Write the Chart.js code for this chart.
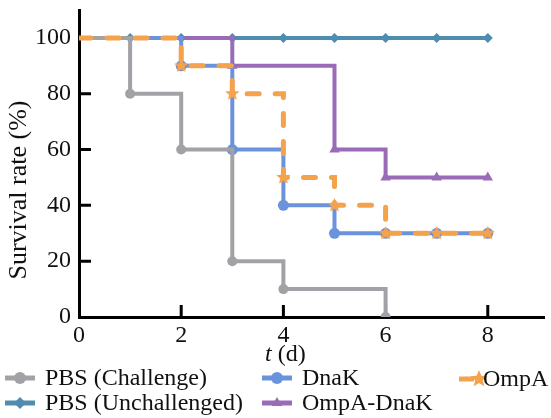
<!DOCTYPE html>
<html>
<head>
<meta charset="utf-8">
<script src="https://cdn.jsdelivr.net/npm/chart.js@4.4.1/dist/chart.umd.min.js"></script>
<style>
  html, body { margin: 0; padding: 0; background: #fff; }
  #wrap { width: 551px; height: 418px; }
</style>
</head>
<body>
<div id="wrap"><canvas id="survivalChart" width="551" height="418"></canvas></div>
<script>
// survival data (day -> % alive)
const challengeDays = [0, 1, 2, 3, 4, 6];
const challengeRate = [100, 80, 60, 20, 10, 0];

const unchallengedDays = [0, 1, 2, 3, 4, 5, 6, 7, 8];
const unchallengedRate = [100, 100, 100, 100, 100, 100, 100, 100, 100];

const dnakDays = [0, 2, 3, 4, 5, 6, 7, 8];
const dnakRate = [100, 90, 60, 40, 30, 30, 30, 30];

const ompaDnakDays = [0, 3, 5, 6, 7, 8];
const ompaDnakRate = [100, 90, 60, 50, 50, 50];

const ompaDays = [0, 2, 3, 4, 5, 6, 7, 8];
const ompaRate = [100, 90, 80, 50, 40, 30, 30, 30];

const xTicks = [0, 2, 4, 6, 8];
const yTicks = [0, 20, 40, 60, 80, 100];

const FONT = "'Liberation Serif', 'Times New Roman', serif";

const colors = {
    challenge: '#a2a2a6',
    unchallenged: '#4f8db0',
    dnak: '#6b93dc',
    ompaDnak: '#9a6bb6',
    ompa: '#f4a24c'
};

function toPoints(xs, ys) {
    return xs.map((x, i) => ({ x: x, y: ys[i] }));
}

// filled five point star used as the OmpA marker
function makeStar(size, color) {
    const c = document.createElement('canvas');
    c.width = size; c.height = size;
    const g = c.getContext('2d');
    const cx = size / 2, cy = size / 2, R = size / 2, r = R * 0.45;
    g.beginPath();
    for (let k = 0; k < 10; k++) {
        const rad = k % 2 === 0 ? R : r;
        const a = -Math.PI / 2 + k * Math.PI / 5;
        g.lineTo(cx + rad * Math.cos(a), cy + rad * Math.sin(a));
    }
    g.closePath();
    g.fillStyle = color;
    g.fill();
    return c;
}
const starImg = makeStar(15, colors.ompa);

const hideFirst = r => ctx => ctx.dataIndex === 0 ? 0 : r;

function stepSet(label, xs, ys, color, style, radius) {
    return {
        label: label,
        data: toPoints(xs, ys),
        borderColor: color,
        backgroundColor: color,
        borderWidth: 4,
        stepped: 'before',
        pointStyle: style,
        pointRadius: hideFirst(radius),
        pointBorderWidth: 0
    };
}

const legendItems = [
    { label: 'PBS (Challenge)', color: colors.challenge, style: 'circle', x1: 5, x2: 35, tx: 45, y: 378 },
    { label: 'PBS (Unchallenged)', color: colors.unchallenged, style: 'rectRot', x1: 5, x2: 35, tx: 45, y: 403 },
    { label: 'DnaK', color: colors.dnak, style: 'circle', x1: 262, x2: 292, tx: 302, y: 378 },
    { label: 'OmpA-DnaK', color: colors.ompaDnak, style: 'triangle', x1: 262, x2: 292, tx: 302, y: 403 },
    { label: 'OmpA', color: colors.ompa, style: 'star', x1: 459, x2: 474, tx: 483, y: 379 }
];

const extras = {
    id: 'extras',
    beforeDatasetsDraw(chart) {
        const ctx = chart.ctx;
        const xs = chart.scales.x, ys = chart.scales.y;
        const area = chart.chartArea;
        ctx.save();
        ctx.strokeStyle = '#000';
        ctx.lineWidth = 3;
        ctx.beginPath();
        xTicks.forEach(v => {
            if (v === 0) return;
            const px = xs.getPixelForValue(v);
            ctx.moveTo(px, area.bottom);
            ctx.lineTo(px, area.bottom - 12);
        });
        yTicks.forEach(v => {
            if (v === 0) return;
            const py = ys.getPixelForValue(v);
            ctx.moveTo(area.left, py);
            ctx.lineTo(area.left + 12, py);
        });
        ctx.stroke();
        ctx.restore();
    },
    afterDraw(chart) {
        const ctx = chart.ctx;
        const xs = chart.scales.x;
        ctx.save();
        ctx.fillStyle = '#111';
        ctx.textBaseline = 'middle';

        // x title: italic t + (d)
        const cx = xs.getPixelForValue(4) + 2;
        ctx.font = 'italic 24px ' + FONT;
        const tW = ctx.measureText('t').width;
        ctx.font = '24px ' + FONT;
        const rest = ' (d)';
        const rW = ctx.measureText(rest).width;
        const startX = cx - (tW + rW) / 2;
        ctx.textAlign = 'left';
        ctx.font = 'italic 24px ' + FONT;
        ctx.fillText('t', startX, 355);
        ctx.font = '24px ' + FONT;
        ctx.fillText(rest, startX + tW, 355);

        // y title
        ctx.save();
        ctx.translate(19, 190);
        ctx.rotate(-Math.PI / 2);
        ctx.textAlign = 'center';
        ctx.font = '26px ' + FONT;
        ctx.fillText('Survival rate (%)', 0, 0);
        ctx.restore();

        // legend
        legendItems.forEach(it => {
            ctx.strokeStyle = it.color;
            ctx.fillStyle = it.color;
            ctx.lineWidth = 5;
            ctx.beginPath();
            ctx.moveTo(it.x1, it.y);
            ctx.lineTo(it.x2, it.y);
            ctx.stroke();
            if (it.style === 'star') {
                ctx.drawImage(makeStar(18, it.color), it.x2 - 4, it.y - 9);
            } else {
                Chart.helpers.drawPoint(ctx, { pointStyle: it.style, radius: 6, rotation: 0, borderWidth: 0 },
                    (it.x1 + it.x2) / 2, it.y);
            }
            ctx.fillStyle = '#111';
            ctx.textAlign = 'left';
            ctx.font = '24px ' + FONT;
            ctx.fillText(it.label, it.tx, it.y + 1);
        });
        ctx.restore();
    }
};

const ompaSet = stepSet('OmpA', ompaDays, ompaRate, colors.ompa, starImg, 7);
ompaSet.borderWidth = 5;
ompaSet.borderDash = [12, 16];
ompaSet.borderCapStyle = 'round';

new Chart(document.getElementById('survivalChart').getContext('2d'), {
    type: 'line',
    data: {
        // first dataset sits on top
        datasets: [
            ompaSet,
            stepSet('PBS (Challenge)', challengeDays, challengeRate, colors.challenge, 'circle', 5),
            stepSet('DnaK', dnakDays, dnakRate, colors.dnak, 'circle', 5.5),
            stepSet('OmpA-DnaK', ompaDnakDays, ompaDnakRate, colors.ompaDnak, 'triangle', 6),
            stepSet('PBS (Unchallenged)', unchallengedDays, unchallengedRate, colors.unchallenged, 'rectRot', 5)
        ]
    },
    options: {
        responsive: false,
        animation: false,
        devicePixelRatio: 1,
        layout: { padding: { left: 0, top: 10, right: 6, bottom: 0 } },
        plugins: {
            legend: { display: false },
            tooltip: { enabled: false }
        },
        scales: {
            x: {
                type: 'linear',
                min: 0,
                max: 9.1,
                afterBuildTicks: s => { s.ticks = xTicks.map(v => ({ value: v })); },
                afterFit: s => { s.height = 101; s.paddingLeft = 0; s.paddingRight = 0; },
                grid: { drawOnChartArea: false, drawTicks: false },
                border: { color: '#000', width: 3 },
                ticks: { color: '#111', padding: 4, maxRotation: 0, font: { family: FONT, size: 24 } }
            },
            y: {
                min: 0,
                max: 110,
                afterBuildTicks: s => { s.ticks = yTicks.map(v => ({ value: v })); },
                afterFit: s => { s.width = 79; s.paddingTop = 0; s.paddingBottom = 0; },
                grid: { drawOnChartArea: false, drawTicks: false },
                border: { color: '#000', width: 3 },
                ticks: { color: '#111', padding: 8, font: { family: FONT, size: 24 } }
            }
        }
    },
    plugins: [extras]
});
</script>
</body>
</html>
